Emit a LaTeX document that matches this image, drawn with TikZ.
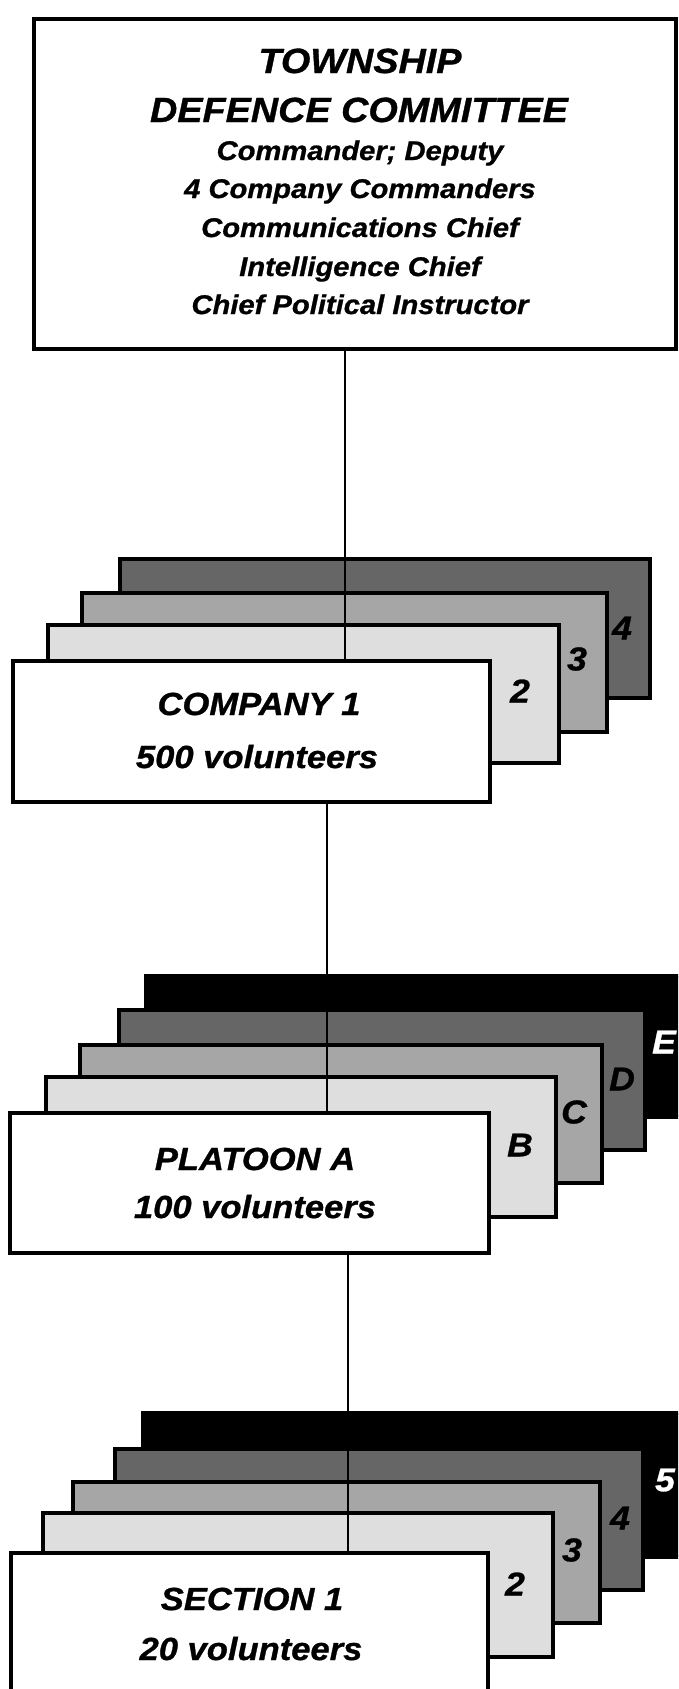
\documentclass[tikz,border=0pt]{standalone}
\usepackage{fontspec}
\newfontfamily\heavy{Liberation Sans}[FakeStretch=1.08,FakeBold=0.9]
\begin{document}
\begin{tikzpicture}[x=1pt,y=-1pt,
  bx/.style={draw=black, line width=3.2pt, inner sep=0pt, outer sep=0pt, rectangle, anchor=north west},
  lightlay/.style={bx, fill=black!13},
  midlay/.style={bx, fill=black!35},
  darklay/.style={bx, fill=black!60},
  blacklay/.style={bx, fill=black},
  frontbox/.style={bx, fill=white},
  link/.style={draw=black, line width=2.8pt},
  ttl/.style={font=\heavy\bfseries\itshape\fontsize{35}{35}\selectfont, anchor=base, inner sep=0pt},
  sub/.style={font=\heavy\bfseries\itshape\fontsize{27}{27}\selectfont, anchor=base, inner sep=0pt},
  big/.style={font=\heavy\bfseries\itshape\fontsize{32}{32}\selectfont, anchor=base, inner sep=0pt},
  tag/.style={font=\heavy\bfseries\itshape\fontsize{33}{33}\selectfont, anchor=center, inner sep=0pt},
]
\useasboundingbox (0,0) rectangle (678,1689);
\clip (0,0) rectangle (678,1689);
\fill[white] (0,0) rectangle (678,1689);

% ---------- Township Defence Committee ----------
\node[frontbox, minimum width=642pt, minimum height=330pt] (tdc) at (34,19) {};
\node[ttl] (t1) at (360,73) {TOWNSHIP};
\node[ttl] (t2) at (359,122) {DEFENCE COMMITTEE};
\node[sub] (t3) at (360,160) {Commander; Deputy};
\node[sub] (t4) at (360,198) {4 Company Commanders};
\node[sub] (t5) at (360,237) {Communications Chief};
\node[sub] (t6) at (360,276) {Intelligence Chief};
\node[sub] (t7) at (360,314) {Chief Political Instructor};

% ---------- Company stack ----------
\node[darklay, minimum width=530pt, minimum height=139pt] (c4) at (120,559) {};
\node[midlay, minimum width=525pt, minimum height=139pt] (c3) at (82,593) {};
\node[lightlay, minimum width=511pt, minimum height=138pt] (c2) at (48,625) {};
\node[tag] (c4l) at (622,628) {4};
\node[tag] (c3l) at (577,659) {3};
\node[tag] (c2l) at (520,691) {2};

% ---------- Platoon stack ----------
\node[blacklay, minimum width=560pt, minimum height=141pt] (pE) at (146,976) {};
\node[darklay, minimum width=526pt, minimum height=140pt] (pD) at (119,1010) {};
\node[midlay, minimum width=522pt, minimum height=138pt] (pC) at (80,1045) {};
\node[lightlay, minimum width=510pt, minimum height=140pt] (pB) at (46,1077) {};
\node[tag, text=white] (pEl) at (664,1042) {E};
\node[tag] (pDl) at (622,1079) {D};
\node[tag] (pCl) at (574,1112) {C};
\node[tag] (pBl) at (520,1145) {B};

% ---------- Section stack ----------
\node[blacklay, minimum width=560pt, minimum height=144pt] (s5) at (143,1413) {};
\node[darklay, minimum width=528pt, minimum height=141pt] (s4) at (115,1449) {};
\node[midlay, minimum width=527pt, minimum height=141pt] (s3) at (73,1482) {};
\node[lightlay, minimum width=510pt, minimum height=144pt] (s2) at (43,1513) {};
\node[tag, text=white] (s5l) at (665,1480) {5};
\node[tag] (s4l) at (620,1518) {4};
\node[tag] (s3l) at (572,1550) {3};
\node[tag] (s2l) at (515,1584) {2};

% ---------- front boxes ----------
\node[frontbox, minimum width=477pt, minimum height=141pt] (c1) at (13,661) {};
\node[big] (c1a) at (259,715) {COMPANY 1};
\node[big] (c1b) at (257,768) {500 volunteers};

\node[frontbox, minimum width=479pt, minimum height=140pt] (pA) at (10,1113) {};
\node[big] (pAa) at (255,1170) {PLATOON A};
\node[big] (pAb) at (255,1218) {100 volunteers};

\node[frontbox, minimum width=477pt, minimum height=170pt] (s1) at (11,1553) {};
\node[big] (s1a) at (252,1610) {SECTION 1};
\node[big] (s1b) at (251,1660) {20 volunteers};

% ---------- connectors ----------
\coordinate (j1) at (345,0);
\coordinate (j2) at (327,0);
\coordinate (j3) at (348,0);
\draw[link] (tdc.south -| j1) -- (c1.north -| j1);
\draw[link] (c1.south -| j2) -- (pA.north -| j2);
\draw[link] (pA.south -| j3) -- (s1.north -| j3);
\end{tikzpicture}
\end{document}
